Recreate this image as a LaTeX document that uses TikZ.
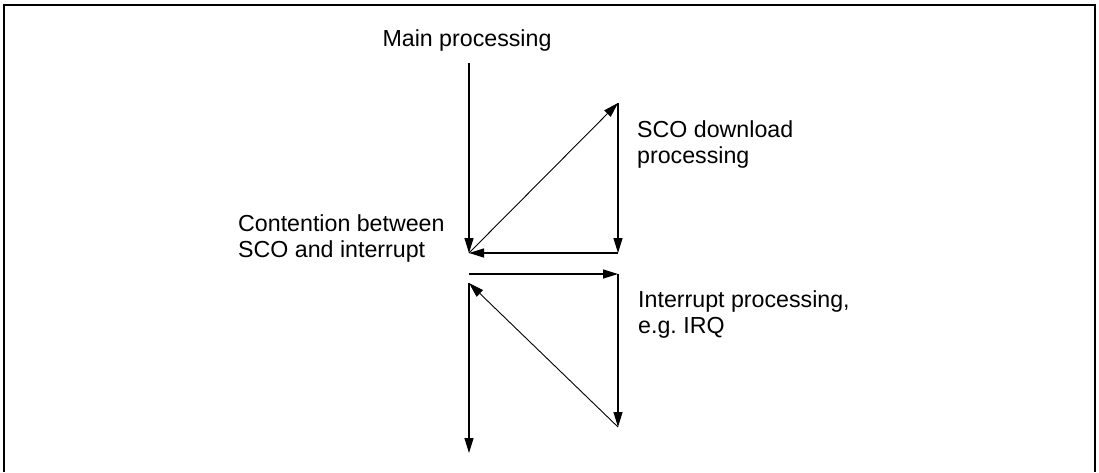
\documentclass[tikz,border=0pt]{standalone}
\usepackage{fontspec}
\setmainfont{Liberation Sans}
\usetikzlibrary{arrows.meta}

\begin{document}
\begin{tikzpicture}[x=1pt, y=-1pt, >={Triangle[length=15pt, width=9pt]},
    every node/.style={font=\fontsize{23.2}{25.5}\selectfont, inner sep=0pt, align=left},
    flow/.style={->, line width=1.2pt},
    jump/.style={->, line width=0.9pt}]
    \useasboundingbox (0,0) rectangle (1099,472);
    \draw[line width=2pt] (4,472) -- (4,5) -- (1095,5) -- (1095,472);

    \coordinate (mtop) at (469,63);
    \coordinate (clash) at (469,253);
    \coordinate (stop) at (618,103);
    \coordinate (sbot) at (618,253);
    \coordinate (ileft) at (469,274);
    \coordinate (itop) at (618,274);
    \coordinate (ibot) at (618,427);
    \coordinate (back) at (469,283);
    \coordinate (mend) at (469,453);

    \node[anchor=base] (main) at (467,46) {Main processing};
    \node[anchor=base west] (sco) at (637,163) {SCO download\\processing};
    \node[anchor=base west] (conflict) at (238,257) {Contention between\\SCO and interrupt};
    \node[anchor=base west] (irq) at (638,333) {Interrupt processing,\\e.g.\ IRQ};

    \draw[flow] (mtop) -- (clash);
    \draw[jump] (clash) -- (stop);
    \draw[flow] (stop) -- (sbot);
    \draw[flow] (sbot) -- (clash);
    \draw[flow] (ileft) -- (itop);
    \draw[flow] (itop) -- (ibot);
    \draw[jump] (ibot) -- (back);
    \draw[flow] (back) -- (mend);
  \end{tikzpicture}
\end{document}
